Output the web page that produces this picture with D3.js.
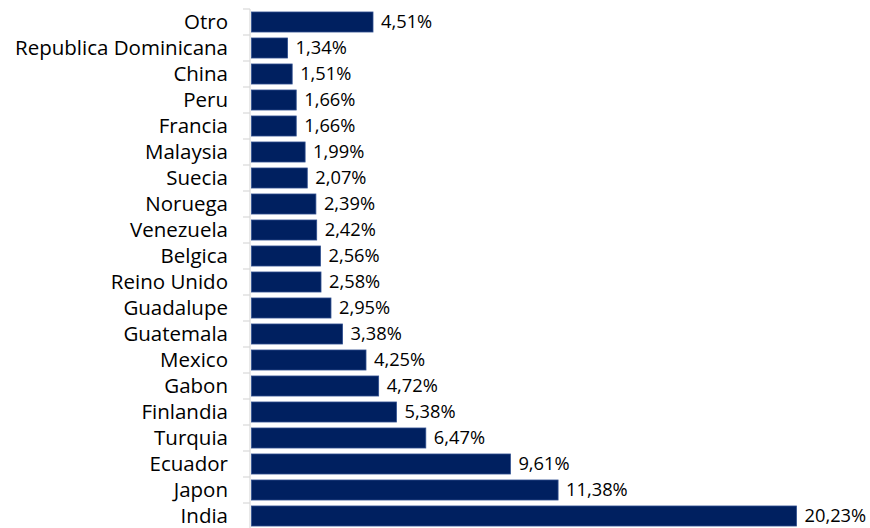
<!DOCTYPE html>
<html><head><meta charset="utf-8">
<script src="https://cdn.jsdelivr.net/npm/d3@7"></script>
<style>body{margin:0;background:#fff}svg{display:block}</style>
</head><body>
<svg id="c" width="870" height="528"></svg>
<script>
const categories = ["Otro","Republica Dominicana","China","Peru","Francia","Malaysia","Suecia","Noruega","Venezuela","Belgica","Reino Unido","Guadalupe","Guatemala","Mexico","Gabon","Finlandia","Turquia","Ecuador","Japon","India"];
const values = [4.51,1.34,1.51,1.66,1.66,1.99,2.07,2.39,2.42,2.56,2.58,2.95,3.38,4.25,4.72,5.38,6.47,9.61,11.38,20.23];
const valueLabels = ["4,51%","1,34%","1,51%","1,66%","1,66%","1,99%","2,07%","2,39%","2,42%","2,56%","2,58%","2,95%","3,38%","4,25%","4,72%","5,38%","6,47%","9,61%","11,38%","20,23%"];

const svg = d3.select("#c");
const x0 = 251.5;
const x = d3.scaleLinear().domain([0, 20.23]).range([x0, 796.5]);
const y = d3.scaleBand().domain(categories).range([9, 529]).paddingInner(0.23).paddingOuter(0.115);
const font = "'Open Sans', sans-serif";

const g = svg.append("g");
g.append("line").attr("x1",250).attr("x2",250).attr("y1",9).attr("y2",529)
  .attr("stroke","#d9d9d9").attr("stroke-width",1.2);
const bounds = d3.range(categories.length+1).map(i => 9 + i*y.step());
g.selectAll(".tk").data(bounds).join("line")
  .attr("x1",243).attr("x2",250).attr("y1",d=>d).attr("y2",d=>d)
  .attr("stroke","#d9d9d9").attr("stroke-width",1.2);

svg.selectAll(".bar").data(categories).join("rect")
  .attr("x", x0)
  .attr("y", d => y(d))
  .attr("width", (d,i) => x(values[i]) - x0)
  .attr("height", y.bandwidth())
  .attr("fill", "#002060")
  .attr("stroke", "#2f4f8f").attr("stroke-width", 0.8);

svg.selectAll(".cat").data(categories).join("text")
  .attr("x", 228).attr("y", d => y(d) + y.bandwidth()/2)
  .attr("dy","0.35em").attr("text-anchor","end")
  .attr("font-family", font).attr("font-size", 20.5).attr("fill","#000")
  .text(d => d);

svg.selectAll(".val").data(categories).join("text")
  .attr("x", (d,i) => x(values[i]) + 8).attr("y", d => y(d) + y.bandwidth()/2)
  .attr("dy","0.35em")
  .attr("font-family", font).attr("font-size", 18.3).attr("fill","#000")
  .text((d,i) => valueLabels[i]);
</script>
</body></html>
